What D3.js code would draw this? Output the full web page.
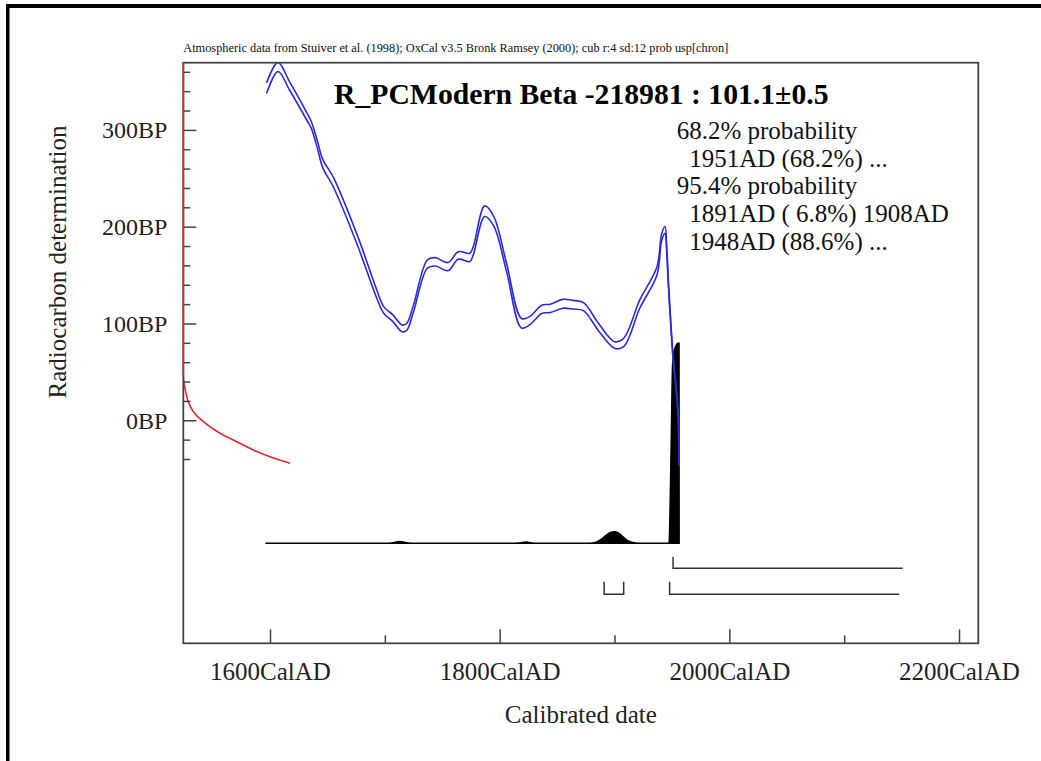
<!DOCTYPE html>
<html>
<head>
<meta charset="utf-8">
<script src="https://cdn.jsdelivr.net/npm/d3@7"></script>
<style>
  html, body { margin: 0; padding: 0; background: #fff; }
  svg { display: block; }
  text { font-family: "Liberation Serif", "Times New Roman", serif; }
</style>
</head>
<body>
<div id="chart"></div>
<script>
// ---------------- DATA ----------------
const headerText = "Atmospheric data from Stuiver et al. (1998); OxCal v3.5 Bronk Ramsey (2000); cub r:4 sd:12 prob usp[chron]";
const titleText = "R_PCModern Beta -218981 : 101.1\u00B10.5";
const probLines = ["68.2% probability", "  1951AD (68.2%) ...", "95.4% probability", "  1891AD ( 6.8%) 1908AD", "  1948AD (88.6%) ..."];

const xMajorTicks = [1600, 1800, 2000, 2200];
const xMajorLabels = ["1600CalAD", "1800CalAD", "2000CalAD", "2200CalAD"];
const xMinorTicks = [1700, 1900, 2100];
const yMajorTicks = [0, 100, 200, 300];
const yMajorLabels = ["0BP", "100BP", "200BP", "300BP"];
const yMinorTicks = [-40, -20, 20, 40, 60, 80, 120, 140, 160, 180, 220, 240, 260, 280, 320, 340, 360];

// calibration curve (calendar year, BP mean, 1 sigma)
const calYears = [1597, 1607, 1617, 1632, 1636, 1641, 1646, 1655, 1676, 1693, 1699, 1707, 1715, 1719, 1725, 1737, 1744, 1755, 1764, 1774, 1777, 1787, 1795, 1806, 1819, 1826, 1837, 1844, 1855, 1864, 1873, 1886, 1900, 1908, 1922, 1937, 1941, 1944, 1945.5, 1947, 1949, 1951, 1953.5, 1955.5, 1956];
const calBP    = [343, 365, 345.5, 314, 305, 286, 265, 246.5, 186.3, 130.3, 114, 105.4, 95, 96.4, 115.7, 161.3, 163.7, 158.7, 170.2, 168.2, 175, 216, 205.2, 157.9, 100.2, 102.8, 114.8, 115.5, 120.3, 119.4, 117.4, 96.4, 77.8, 80.4, 120, 154.4, 188.8, 196.6, 175, 140, 100, 65, 35, 5, -45];
const calSigma = [5.5, 4.7, 4.3, 3.8, 3.4, 3.8, 4.3, 5.0, 5.0, 4.3, 3.4, 3.5, 3.5, 3.6, 3.5, 4.3, 4.3, 4.2, 3.9, 4.3, 4.3, 5.5, 5.0, 4.3, 5.0, 4.3, 4.3, 4.3, 4.6, 4.5, 4.1, 3.8, 3.4, 4.3, 4.3, 4.3, 3.5, 3.5, 3.0, 2.5, 2.0, 2.0, 2.0, 2.0, 2.0];

// calibrated probability distribution (calendar year, relative probability)
const probYears  = [1596, 1700, 1706, 1713, 1720, 1726, 1812, 1818, 1823, 1828, 1833, 1878, 1884, 1889, 1894, 1898, 1900, 1902, 1906, 1911, 1916, 1920, 1947.5, 1948.5, 1949.5, 1950.5, 1951.5, 1953, 1955.5, 1956.2, 1956.3];
const probValues = [0, 0, 0.002, 0.009, 0.002, 0, 0, 0.003, 0.006, 0.002, 0, 0, 0.006, 0.022, 0.046, 0.056, 0.058, 0.056, 0.04, 0.015, 0.004, 0, 0, 0.21, 0.55, 0.88, 0.95, 0.98, 1.0, 1.0, 0];

// radiocarbon measurement distribution (BP, relative density)
const redBP      = [369.4, 47, 33, 19.2, 8.9, -1.4, -13.4, -22.1, -30.7, -37.6, -44.4];
const redDensity = [0, 0, 0.016, 0.047, 0.094, 0.187, 0.344, 0.5, 0.656, 0.813, 1.0];

// highest probability ranges: [start, end, closed end?]
const ranges68 = [[1951, 2151, false]];
const ranges95 = [[1891, 1908, true], [1948, 2148, false]];

// ---------------- LAYOUT ----------------
const W = 1041, H = 761;
const P = { left: 183.3, right: 978.3, top: 62.7, bottom: 643.3 };
const fontMain = 25;

const svg = d3.select("#chart").append("svg").attr("width", W).attr("height", H);
svg.append("rect").attr("width", W).attr("height", H).attr("fill", "#fff");

// outer page border (top + left)
svg.append("rect").attr("x", 6).attr("y", 4).attr("width", W - 6).attr("height", 4).attr("fill", "#000");
svg.append("rect").attr("x", 6).attr("y", 4).attr("width", 3.5).attr("height", H - 4).attr("fill", "#000");

const x = d3.scaleLinear().domain([1524.5, 2216.8]).range([P.left, P.right]);
const y = d3.scaleLinear().domain([-230.4, 369.4]).range([P.bottom, P.top]);
const pY = d3.scaleLinear().domain([0, 1]).range([543.3, 343.3]);
const rX = d3.scaleLinear().domain([0, 1]).range([P.left, 290]);

svg.append("defs").append("clipPath").attr("id", "clip")
  .append("rect").attr("x", P.left).attr("y", P.top).attr("width", P.right - P.left).attr("height", P.bottom - P.top);

// header
svg.append("text").attr("x", P.left).attr("y", 52).attr("font-size", 11.5)
  .attr("textLength", 545).attr("lengthAdjust", "spacingAndGlyphs")
  .attr("fill", "#111").text(headerText);

// probability distribution (black)
const probData = probYears.map((d, i) => ({ yr: d, p: probValues[i] }));
svg.append("path").datum(probData)
  .attr("d", d3.area().x(d => x(d.yr)).y0(pY(0)).y1(d => pY(d.p)).curve(d3.curveMonotoneX))
  .attr("fill", "#000").attr("stroke", "#000").attr("stroke-width", 1.5);

// calibration curve (blue, +/- 1 sigma)
const cal = calYears.map((d, i) => ({ yr: d, bp: calBP[i], s: calSigma[i] }));
const gCal = svg.append("g").attr("clip-path", "url(#clip)");
[1, -1].forEach(sign => {
  gCal.append("path").datum(cal)
    .attr("d", d3.line().x(d => x(d.yr)).y(d => y(d.bp + sign * d.s)).curve(d3.curveCatmullRom.alpha(0.5)))
    .attr("fill", "none").attr("stroke", "#2b2bd3").attr("stroke-width", 1.6);
});

// radiocarbon distribution (red)
const red = redBP.map((d, i) => ({ bp: d, v: redDensity[i] }));
svg.append("path").datum(red)
  .attr("d", d3.line().x(d => rX(d.v)).y(d => y(d.bp)).curve(d3.curveMonotoneY))
  .attr("fill", "none").attr("stroke", "#e02828").attr("stroke-width", 1.6)
  .attr("clip-path", "url(#clip)");

// ranges brackets
const bracketColor = "#333";
function drawRanges(ranges, yTop, yBot) {
  ranges.forEach(r => {
    const pts = [[x(r[0]), yTop], [x(r[0]), yBot], [x(r[1]), yBot]];
    if (r[2]) pts.push([x(r[1]), yTop]);
    svg.append("path").attr("d", d3.line()(pts))
      .attr("fill", "none").attr("stroke", bracketColor).attr("stroke-width", 1.5);
  });
}
drawRanges(ranges68, 556.7, 568.3);
drawRanges(ranges95, 581.7, 594.3);

// axes
const axisColor = "#444";
const gxMaj = svg.append("g").attr("transform", `translate(0,${P.bottom})`)
  .call(d3.axisBottom(x).tickValues(xMajorTicks).tickSizeInner(-14).tickSizeOuter(0).tickPadding(19)
    .tickFormat((d, i) => xMajorLabels[i]));
const gxMin = svg.append("g").attr("transform", `translate(0,${P.bottom})`)
  .call(d3.axisBottom(x).tickValues(xMinorTicks).tickSizeInner(-8).tickSizeOuter(0).tickFormat(""));
const gyMaj = svg.append("g").attr("transform", `translate(${P.left},0)`)
  .call(d3.axisLeft(y).tickValues(yMajorTicks).tickSizeInner(-13).tickSizeOuter(0).tickPadding(16)
    .tickFormat((d, i) => yMajorLabels[i]));
const gyMin = svg.append("g").attr("transform", `translate(${P.left},0)`)
  .call(d3.axisLeft(y).tickValues(yMinorTicks).tickSizeInner(-7).tickSizeOuter(0).tickFormat(""));
[gxMaj, gxMin, gyMaj, gyMin].forEach(g => {
  g.select(".domain").remove();
  g.selectAll(".tick line").attr("stroke", axisColor).attr("stroke-width", 1.5);
  g.selectAll(".tick text").attr("font-size", fontMain).attr("fill", "#222")
    .attr("font-family", "'Liberation Serif', 'Times New Roman', serif");
});
gyMaj.selectAll(".tick text").attr("font-size", 24).attr("dy", "0.33em");

// plot frame
svg.append("rect").attr("x", P.left).attr("y", P.top).attr("width", P.right - P.left).attr("height", P.bottom - P.top)
  .attr("fill", "none").attr("stroke", axisColor).attr("stroke-width", 1.8);
// red tail lying on the y axis line
svg.append("path").datum(red.slice(0, 2))
  .attr("d", d3.line().x(d => rX(d.v)).y(d => y(d.bp)))
  .attr("stroke", "#e02828").attr("stroke-width", 1.6).attr("fill", "none");

// axis titles
svg.append("text").attr("x", (P.left + P.right) / 2).attr("y", 723).attr("text-anchor", "middle")
  .attr("font-size", fontMain).attr("fill", "#222").text("Calibrated date");
svg.append("text").attr("transform", "translate(66,262) rotate(-90)").attr("text-anchor", "middle")
  .attr("font-size", fontMain).attr("fill", "#222").text("Radiocarbon determination");

// title
svg.append("text").attr("x", 334).attr("y", 104).attr("font-size", 29.7).attr("font-weight", "bold")
  .attr("fill", "#000").text(titleText);

// probability text
const lineX = [676.7, 676.7, 676.7, 676.7, 676.7];
const lineY = [139.3, 166.7, 193.7, 221.7, 250];
svg.append("g").selectAll("text").data(probLines).join("text")
  .attr("x", (d, i) => lineX[i]).attr("y", (d, i) => lineY[i])
  .attr("font-size", fontMain).attr("fill", "#111").style("white-space", "pre")
  .text(d => d);
</script>
</body>
</html>
